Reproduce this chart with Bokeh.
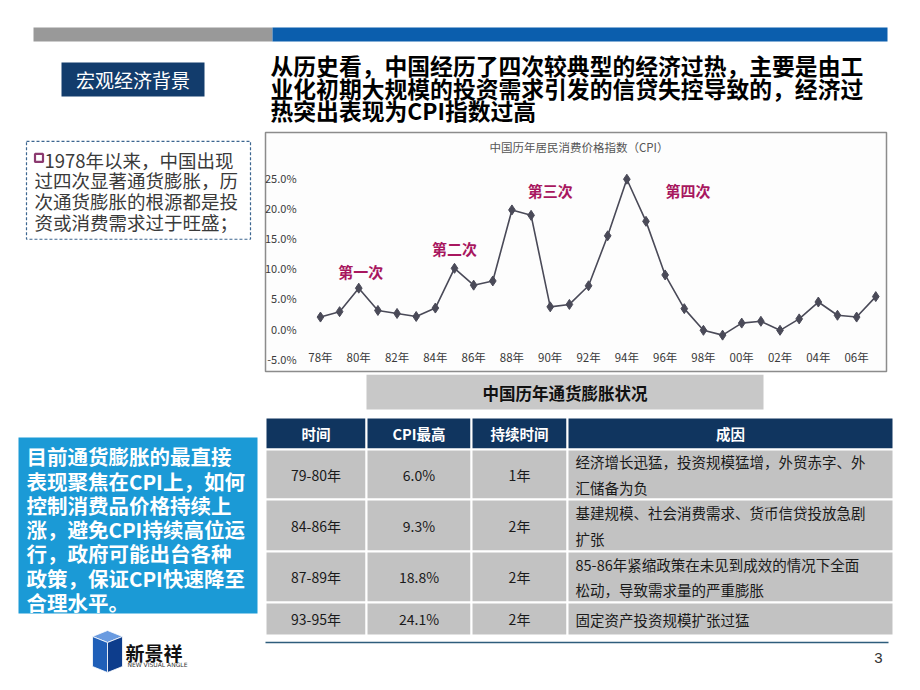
from bokeh.plotting import figure
from bokeh.layouts import column, row
from bokeh.models import Range1d, FixedTicker, Label
from bokeh.core.properties import value
from bokeh.embed import file_html
from bokeh.resources import INLINE

# ---------------- data ----------------
years = [1978, 1979, 1980, 1981, 1982, 1983, 1984, 1985, 1986, 1987,
         1988, 1989, 1990, 1991, 1992, 1993, 1994, 1995, 1996, 1997,
         1998, 1999, 2000, 2001, 2002, 2003, 2004, 2005, 2006, 2007]
cpi = [1.9, 2.8, 6.7, 3.0, 2.5, 2.0, 3.4, 10.0, 7.2, 7.9,
       19.7, 18.8, 3.6, 4.0, 7.1, 15.4, 24.8, 17.8, 8.9, 3.3,
       -0.3, -1.1, 0.9, 1.2, -0.3, 1.6, 4.4, 2.2, 1.9, 5.3]

x_ticks = [1978, 1980, 1982, 1984, 1986, 1988, 1990, 1992, 1994, 1996,
           1998, 2000, 2002, 2004, 2006]
x_tick_labels = ["78年", "80年", "82年", "84年", "86年", "88年", "90年", "92年",
                 "94年", "96年", "98年", "00年", "02年", "04年", "06年"]
y_ticks = [-5, 0, 5, 10, 15, 20, 25]
y_tick_labels = ["-5.0%", "0.0%", "5.0%", "10.0%", "15.0%", "20.0%", "25.0%"]

wave_labels = ["第一次", "第二次", "第三次", "第四次"]
wave_x = [1980.1, 1985.0, 1990.0, 1997.2]
wave_y = [9.5, 13.3, 22.9, 23.0]

chart_title = "中国历年居民消费价格指数（CPI）"

table_title = "中国历年通货膨胀状况"
table_header = ["时间", "CPI最高", "持续时间", "成因"]
periods = ["79-80年", "84-86年", "87-89年", "93-95年"]
cpi_peak = ["6.0%", "9.3%", "18.8%", "24.1%"]
durations = ["1年", "2年", "2年", "2年"]
causes = ["经济增长迅猛，投资规模猛增，外贸赤字、外\n汇储备为负",
          "基建规模、社会消费需求、货币信贷投放急剧\n扩张",
          "85-86年紧缩政策在未见到成效的情况下全面\n松动，导致需求量的严重膨胀",
          "固定资产投资规模扩张过猛"]

section_label = "宏观经济背景"
heading_lines = ["从历史看，中国经历了四次较典型的经济过热，主要是由工",
                 "业化初期大规模的投资需求引发的信贷失控导致的，经济过",
                 "热突出表现为CPI指数过高"]
note_lines = ["1978年以来，中国出现", "过四次显著通货膨胀，历",
              "次通货膨胀的根源都是投", "资或消费需求过于旺盛；"]
box_lines = ["目前通货膨胀的最直接", "表现聚焦在CPI上，如何", "控制消费品价格持续上",
             "涨，避免CPI持续高位运", "行，政府可能出台各种", "政策，保证CPI快速降至",
             "合理水平。"]
page_no = "3"

# ---------------- styles ----------------
CJK = "Noto Sans CJK SC"
NAVY = "#10355f"
BLUE_BAR = "#0b5ead"
SKY = "#1b9ad6"
GRAY_BAR = "#999999"
CELL_GRAY = "#c2c2c2"
LINE_COL = "#4a4a58"
WAVE_COL = "#a8175f"


def canvas(x0, x1, y0, y1):
    p = figure(width=x1 - x0, height=y1 - y0,
               x_range=Range1d(x0, x1), y_range=Range1d(y1, y0),
               x_axis_type=None, y_axis_type=None,
               output_backend="svg", toolbar_location=None, min_border=0)
    p.grid.visible = False
    p.outline_line_color = None
    return p


def txt(p, xs, ys, texts, size, color="#000000", align="left", bold=False,
        font=CJK, line_height=1.2):
    p.text(x=xs, y=ys, text=texts, text_font=value(font), text_font_size=size,
           text_color=color, text_align=align, text_baseline="middle",
           text_font_style="bold" if bold else "normal", text_line_height=line_height)


# ---------------- top band ----------------
pt = canvas(0, 920, 0, 130)
pt.quad(left=[33], right=[272], top=[27], bottom=[41], fill_color=GRAY_BAR, line_color=None)
pt.quad(left=[272], right=[887], top=[27], bottom=[41], fill_color=BLUE_BAR, line_color=None)
pt.quad(left=[61], right=[204], top=[62], bottom=[96], fill_color="#123c6c", line_color=None)
txt(pt, [132.5], [79], [section_label], "19px", "#ffffff", "center")
txt(pt, [270] * 3, [65, 88, 110], heading_lines, "22.8px", "#000000", "left", bold=True)

# ---------------- left note ----------------
pl = canvas(0, 264, 130, 374)
pl.quad(left=[26], right=[250], top=[139], bottom=[239], fill_color=None,
        line_color="#3c6690", line_dash="3 2", line_width=1.2)
pl.scatter([38.5], [156], marker="square", size=8, fill_color="#ffffff",
           line_color="#8c3a70", line_width=2.2)
txt(pl, [44, 34, 34, 34], [158, 179, 200, 221], note_lines, "18.5px", "#3a3a3a")

# ---------------- chart ----------------
pc = figure(width=624, height=244,
            x_range=Range1d(1975.13, 2007.56), y_range=Range1d(-7.14, 32.56),
            output_backend="svg", toolbar_location=None,
            min_border_left=1, min_border_right=2, min_border_top=2, min_border_bottom=3)
pc.grid.visible = False
pc.background_fill_color = "#fdfdfd"
pc.outline_line_color = "#8c8c8c"
pc.outline_line_width = 1.5

for ax in (pc.xaxis[0], pc.yaxis[0]):
    ax.axis_line_color = None
    ax.major_tick_line_color = None
    ax.minor_tick_line_color = None
    ax.major_label_text_font = CJK
    ax.major_label_text_font_size = "11.5px"
    ax.major_label_text_color = "#3a3a3a"

pc.xaxis[0].ticker = FixedTicker(ticks=x_ticks)
pc.xaxis[0].major_label_overrides = dict(zip(x_ticks, x_tick_labels))
pc.xaxis[0].fixed_location = -2.15
pc.xaxis[0].major_label_standoff = 2

pc.yaxis[0].ticker = FixedTicker(ticks=y_ticks)
pc.yaxis[0].major_label_overrides = dict(zip(y_ticks, y_tick_labels))
pc.yaxis[0].major_label_text_font_size = "11px"
pc.yaxis[0].fixed_location = 1977.22
pc.yaxis[0].major_label_standoff = 3

pc.line(years, cpi, line_color=LINE_COL, line_width=1.6)
pc.scatter(years, cpi, marker="diamond", size=10, fill_color=LINE_COL, line_color=LINE_COL)
txt(pc, wave_x, wave_y, wave_labels, "15px", WAVE_COL, "center", bold=True)
pc.add_layout(Label(x=1991.5, y=30.1, text=chart_title, text_align="center",
                    text_baseline="middle", text_font=CJK, text_font_size="11.5px",
                    text_color="#555555"))

# ---------------- bottom part ----------------
pb = canvas(0, 920, 374, 690)

# table title
pb.quad(left=[366], right=[763], top=[374], bottom=[409], fill_color="#c8c8c8", line_color=None)
txt(pb, [564.5], [392], [table_title], "16.5px", "#111111", "center", bold=True)

# table grid
col_edges = [265, 366, 471, 567, 893]
row_edges = [417, 449, 499, 551, 602, 635]
lefts, rights, tops, bottoms, fills = [], [], [], [], []
for r in range(len(row_edges) - 1):
    for c in range(len(col_edges) - 1):
        lefts.append(col_edges[c])
        rights.append(col_edges[c + 1])
        tops.append(row_edges[r])
        bottoms.append(row_edges[r + 1])
        fills.append(NAVY if r == 0 else CELL_GRAY)
pb.quad(left=lefts, right=rights, top=tops, bottom=bottoms, fill_color=fills,
        line_color="#ffffff", line_width=2)

col_centers = [(col_edges[i] + col_edges[i + 1]) / 2 for i in range(3)] + [730]
row_centers = [(row_edges[i] + row_edges[i + 1]) / 2 for i in range(len(row_edges) - 1)]
txt(pb, col_centers, [row_centers[0]] * 4, table_header, "14.5px", "#ffffff", "center", bold=True)
body_y = row_centers[1:]
txt(pb, [col_centers[0]] * 4, body_y, periods, "14px", "#1a1a1a", "center")
txt(pb, [col_centers[1]] * 4, body_y, cpi_peak, "14px", "#1a1a1a", "center")
txt(pb, [col_centers[2]] * 4, body_y, durations, "14px", "#1a1a1a", "center")
txt(pb, [575] * 4, body_y, causes, "14.5px", "#1a1a1a", "left", line_height=1.22)

# blue message box
pb.quad(left=[18], right=[257], top=[437], bottom=[613], fill_color=SKY, line_color=None)
txt(pb, [26] * 7, [455, 480, 504, 528, 552, 577, 601], box_lines, "20.5px", "#ffffff", "left", bold=True)

# footer line, page number
pb.line([265, 888], [642, 642], line_color="#2e5d7c", line_width=1.5)
txt(pb, [878], [657], [page_no], "15px", "#333333", "center", font="Liberation Sans")

# logo
pb.patches(xs=[[92, 107, 122, 107], [92, 107, 107, 92], [107, 122, 122, 107]],
           ys=[[636, 630, 636, 642], [636, 642, 672, 666], [642, 636, 666, 672]],
           fill_color=["#6a9be0", "#1f5fb8", "#0d3d8c"], line_color="#ffffff", line_width=0.8)
txt(pb, [125], [652], ["新景祥"], "19px", "#111111", "left", bold=True)
txt(pb, [127], [664], ["NEW VISUAL ANGLE"], "6px", "#333333", "left", font="DejaVu Sans")

layout = column(pt, row(pl, pc), pb)
open("out.html", "w").write(file_html(layout, INLINE))
